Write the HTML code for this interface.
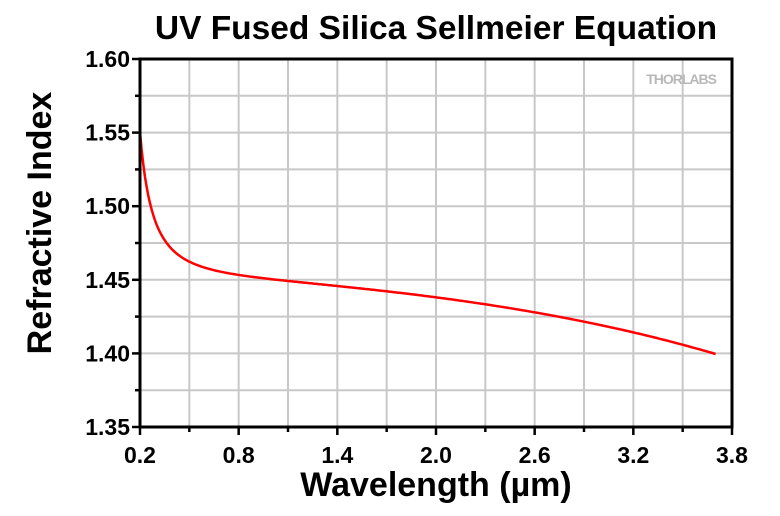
<!DOCTYPE html>
<html><head><meta charset="utf-8"><style>
body{margin:0;background:#fff;width:780px;height:511px;overflow:hidden}
svg text{font-family:"Liberation Sans",Arial,sans-serif;font-weight:bold}
</style></head><body>
<svg id="s" width="780" height="511" xmlns="http://www.w3.org/2000/svg">
<g id="grid" stroke="#c8c8c8" stroke-width="2"></g>
<path id="curve" fill="none" stroke="#ff0000" stroke-width="2.5"/>
<rect x="140" y="59" width="592" height="368" fill="none" stroke="#000" stroke-width="3"/>
<g id="ticks" stroke="#000" stroke-width="2.5"></g>
<g id="labels" font-size="23" fill="#000"></g>
<text x="436" y="39" font-size="33.5" text-anchor="middle">UV Fused Silica Sellmeier Equation</text>
<text x="436" y="496" font-size="34" text-anchor="middle">Wavelength (µm)</text>
<text transform="translate(51,223) rotate(-90)" font-size="34" text-anchor="middle">Refractive Index</text>
<text x="716" y="84" font-size="14" fill="#b8b8b8" text-anchor="end" style="letter-spacing:-1px">THORLABS</text>
</svg>
<script>
const L=140,R=732,T=59,B=427;
const X=l=>L+(l-0.2)/3.6*(R-L), Y=n=>B-(n-1.35)/0.25*(B-T);
let g='',t='',lb='';
for(let i=1;i<12;i++){const x=L+i*(R-L)/12;g+=`<line x1="${x}" y1="${T}" x2="${x}" y2="${B}"/>`;}
for(let i=1;i<10;i++){const y=T+i*(B-T)/10;g+=`<line x1="${L}" y1="${y}" x2="${R}" y2="${y}"/>`;}
for(let i=0;i<=12;i++){const x=L+i*(R-L)/12;t+=`<line x1="${x}" y1="${B}" x2="${x}" y2="${B+(i%2?5:8)}"/>`;
 if(i%2==0)lb+=`<text x="${x}" y="${B+36}" text-anchor="middle">${(0.2+i*0.3).toFixed(1)}</text>`;}
for(let i=0;i<=10;i++){const y=T+i*(B-T)/10;t+=`<line x1="${L}" y1="${y}" x2="${L-(i%2?5:8)}" y2="${y}"/>`;
 if(i%2==0)lb+=`<text x="${L-10}" y="${y+8}" text-anchor="end">${(1.6-i*0.025).toFixed(2)}</text>`;}
document.getElementById('grid').innerHTML=g;document.getElementById('ticks').innerHTML=t;document.getElementById('labels').innerHTML=lb;
let d='';
for(let l=0.2;l<=3.7001;l+=0.01){const l2=l*l;
 const n=Math.sqrt(1+0.6961663*l2/(l2-0.0684043**2)+0.4079426*l2/(l2-0.1162414**2)+0.8974794*l2/(l2-9.896161**2));
 d+=(d?'L':'M')+X(l).toFixed(1)+' '+Y(n).toFixed(1);}
document.getElementById('curve').setAttribute('d',d);
</script>
</body></html>
